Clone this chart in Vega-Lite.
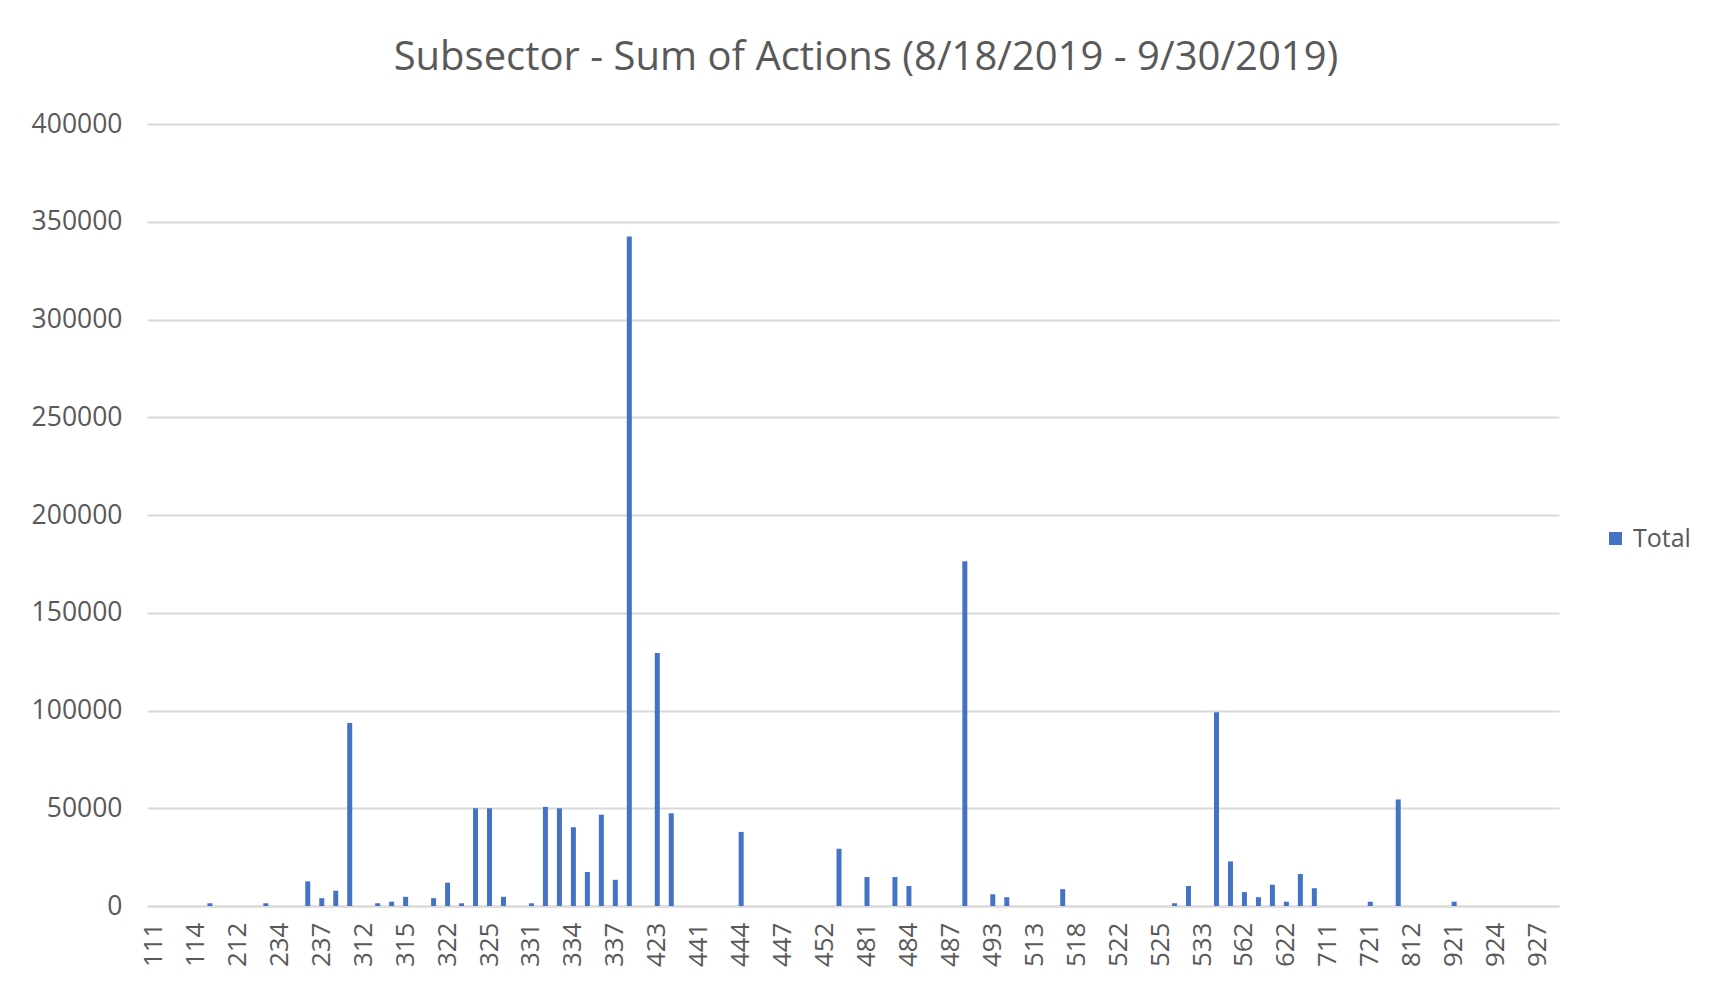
{
  "$schema": "https://vega.github.io/schema/vega-lite/v6.json",
  "width": 1412,
  "height": 782,
  "autosize": {"type": "none"},
  "padding": {"left": 147, "top": 124, "right": 150, "bottom": 84},
  "background": "white",
  "title": {
    "text": "Subsector - Sum of Actions (8/18/2019 - 9/30/2019)",
    "font": "Open Sans",
    "fontSize": 40,
    "fontWeight": "normal",
    "color": "#595959",
    "anchor": "middle",
    "dx": 13,
    "offset": 33
  },
  "data": {
    "values": [
      {"Subsector": "111", "Total": 0},
      {"Subsector": "112", "Total": 0},
      {"Subsector": "113", "Total": 0},
      {"Subsector": "114", "Total": 0},
      {"Subsector": "115", "Total": 1400},
      {"Subsector": "211", "Total": 0},
      {"Subsector": "212", "Total": 0},
      {"Subsector": "213", "Total": 0},
      {"Subsector": "221", "Total": 1400},
      {"Subsector": "234", "Total": 0},
      {"Subsector": "235", "Total": 0},
      {"Subsector": "236", "Total": 12600},
      {"Subsector": "237", "Total": 4000},
      {"Subsector": "238", "Total": 7800},
      {"Subsector": "311", "Total": 93600},
      {"Subsector": "312", "Total": 0},
      {"Subsector": "313", "Total": 1400},
      {"Subsector": "314", "Total": 2200},
      {"Subsector": "315", "Total": 4700},
      {"Subsector": "316", "Total": 0},
      {"Subsector": "321", "Total": 4000},
      {"Subsector": "322", "Total": 11900},
      {"Subsector": "323", "Total": 1400},
      {"Subsector": "324", "Total": 50000},
      {"Subsector": "325", "Total": 50000},
      {"Subsector": "326", "Total": 4700},
      {"Subsector": "327", "Total": 0},
      {"Subsector": "331", "Total": 1400},
      {"Subsector": "332", "Total": 50700},
      {"Subsector": "333", "Total": 50000},
      {"Subsector": "334", "Total": 40300},
      {"Subsector": "335", "Total": 17400},
      {"Subsector": "336", "Total": 46700},
      {"Subsector": "337", "Total": 13400},
      {"Subsector": "339", "Total": 342500},
      {"Subsector": "421", "Total": 0},
      {"Subsector": "423", "Total": 129400},
      {"Subsector": "424", "Total": 47400},
      {"Subsector": "425", "Total": 0},
      {"Subsector": "441", "Total": 0},
      {"Subsector": "442", "Total": 0},
      {"Subsector": "443", "Total": 0},
      {"Subsector": "444", "Total": 37900},
      {"Subsector": "445", "Total": 0},
      {"Subsector": "446", "Total": 0},
      {"Subsector": "447", "Total": 0},
      {"Subsector": "448", "Total": 0},
      {"Subsector": "451", "Total": 0},
      {"Subsector": "452", "Total": 0},
      {"Subsector": "453", "Total": 29300},
      {"Subsector": "454", "Total": 0},
      {"Subsector": "481", "Total": 14800},
      {"Subsector": "482", "Total": 0},
      {"Subsector": "483", "Total": 14800},
      {"Subsector": "484", "Total": 10200},
      {"Subsector": "485", "Total": 0},
      {"Subsector": "486", "Total": 0},
      {"Subsector": "487", "Total": 0},
      {"Subsector": "488", "Total": 176300},
      {"Subsector": "492", "Total": 0},
      {"Subsector": "493", "Total": 6000},
      {"Subsector": "511", "Total": 4500},
      {"Subsector": "512", "Total": 0},
      {"Subsector": "513", "Total": 0},
      {"Subsector": "515", "Total": 0},
      {"Subsector": "517", "Total": 8600},
      {"Subsector": "518", "Total": 0},
      {"Subsector": "519", "Total": 0},
      {"Subsector": "521", "Total": 0},
      {"Subsector": "522", "Total": 0},
      {"Subsector": "523", "Total": 0},
      {"Subsector": "524", "Total": 0},
      {"Subsector": "525", "Total": 0},
      {"Subsector": "531", "Total": 1400},
      {"Subsector": "532", "Total": 10200},
      {"Subsector": "533", "Total": 0},
      {"Subsector": "541", "Total": 99100},
      {"Subsector": "561", "Total": 22800},
      {"Subsector": "562", "Total": 7100},
      {"Subsector": "611", "Total": 4500},
      {"Subsector": "621", "Total": 10900},
      {"Subsector": "622", "Total": 2200},
      {"Subsector": "623", "Total": 16400},
      {"Subsector": "624", "Total": 9100},
      {"Subsector": "711", "Total": 0},
      {"Subsector": "712", "Total": 0},
      {"Subsector": "713", "Total": 0},
      {"Subsector": "721", "Total": 2200},
      {"Subsector": "722", "Total": 0},
      {"Subsector": "811", "Total": 54500},
      {"Subsector": "812", "Total": 0},
      {"Subsector": "813", "Total": 0},
      {"Subsector": "814", "Total": 0},
      {"Subsector": "921", "Total": 2200},
      {"Subsector": "922", "Total": 0},
      {"Subsector": "923", "Total": 0},
      {"Subsector": "924", "Total": 0},
      {"Subsector": "925", "Total": 0},
      {"Subsector": "926", "Total": 0},
      {"Subsector": "927", "Total": 0},
      {"Subsector": "928", "Total": 0}
    ]
  },
  "mark": {"type": "bar", "size": 5},
  "encoding": {
    "x": {
      "field": "Subsector",
      "type": "nominal",
      "sort": null,
      "scale": {"paddingInner": 0, "paddingOuter": 0},
      "axis": {
        "title": null,
        "values": ["111","114","212","234","237","312","315","322","325","331","334","337","423","441","444","447","452","481","484","487","493","513","518","522","525","533","562","622","711","721","812","921","924","927"],
        "labelAngle": -90,
        "labelFont": "Open Sans",
        "labelFontSize": 26,
        "labelColor": "#595959",
        "labelPadding": 16,
        "labelOverlap": false,
        "ticks": false,
        "domain": true,
        "domainColor": "#d9d9d9",
        "domainWidth": 2
      }
    },
    "y": {
      "field": "Total",
      "type": "quantitative",
      "scale": {"domain": [0, 400000]},
      "axis": {
        "title": null,
        "values": [0, 50000, 100000, 150000, 200000, 250000, 300000, 350000, 400000],
        "format": "d",
        "labelFont": "Open Sans",
        "labelFontSize": 26.5,
        "labelColor": "#595959",
        "labelPadding": 25,
        "labelOverlap": false,
        "ticks": false,
        "domain": false,
        "grid": true,
        "gridColor": "#d9d9d9",
        "gridWidth": 2
      }
    },
    "color": {
      "datum": "Total",
      "type": "nominal",
      "scale": {"range": ["#4472C4"]},
      "legend": {
        "title": null,
        "orient": "none",
        "legendX": 1456,
        "legendY": 402,
        "symbolType": "square",
        "symbolSize": 169,
        "symbolStrokeWidth": 0,
        "labelFont": "Open Sans",
        "labelFontSize": 25,
        "labelColor": "#595959",
        "labelOffset": 5
      }
    }
  },
  "config": {
    "view": {"stroke": null}
  }
}
